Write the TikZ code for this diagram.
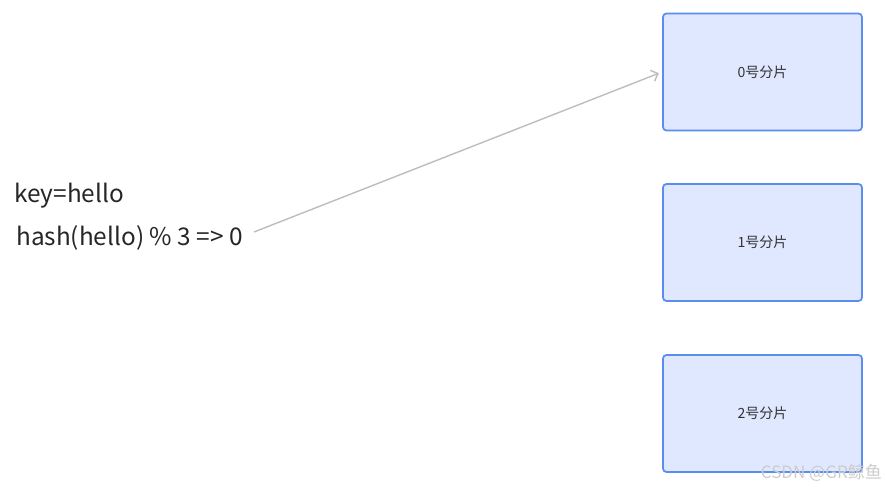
\documentclass[tikz,border=0pt]{standalone}
\usepackage{fontspec}
\setmainfont{Noto Sans CJK SC}
\usetikzlibrary{arrows.meta, positioning, calc}

\definecolor{shardline}{HTML}{5B8DEF}
\definecolor{shardfill}{HTML}{E0E8FF}
\definecolor{linkgray}{HTML}{BDBDBD}
\definecolor{textdark}{HTML}{333333}

\begin{document}
\begin{tikzpicture}[
    x=0.03cm, y=-0.03cm,
    shard/.style={rectangle, rounded corners=3pt, draw=shardline, fill=shardfill, line width=1.5pt, minimum width=199*0.03cm, minimum height=117*0.03cm, font=\fontsize{12}{14}\selectfont, text=textdark},
    keytext/.style={anchor=base west, inner sep=0pt, font=\fontsize{20.8}{24}\selectfont, text=black!85}
]
\useasboundingbox (0,0) rectangle (887,489);
% Nodes
\node[shard] (s0) at (762.5, 72) {0号分片};
\node[shard] (s1) at (762.5, 242.5) {1号分片};
\node[shard] (s2) at (762.5, 413.5) {2号分片};

\node[keytext] (key) at (14, 203) {key=hello};
\node[keytext] (hash) at (16, 246) {hash(hello) \% 3 => 0};
\coordinate (start) at (254, 232);

% Paths
\draw[-{Straight Barb[length=5pt, width=10pt]}, linkgray, line width=1.2pt, shorten >=3pt] (start) -- (s0.west);

% watermark
\node[anchor=base east, inner sep=0pt, font=\fontsize{14.5}{16}\selectfont, text=gray!40] (mark) at (882, 479) {CSDN @GR鲸鱼};
\end{tikzpicture}
\end{document}
